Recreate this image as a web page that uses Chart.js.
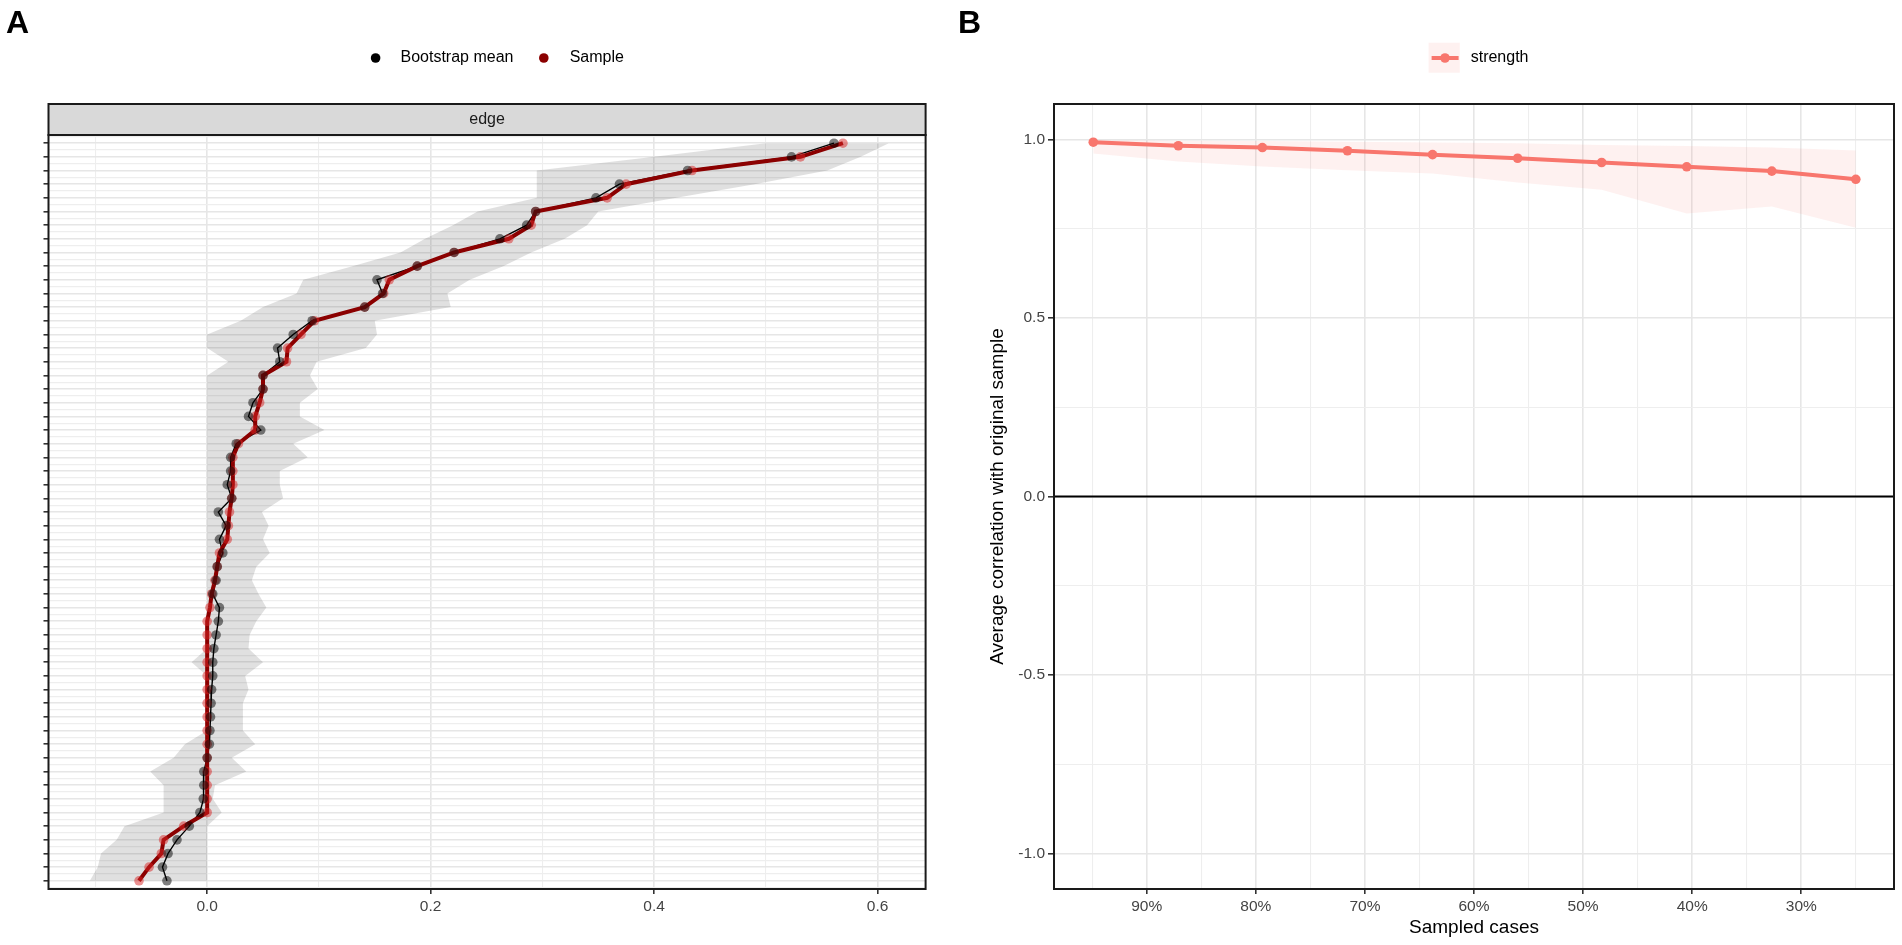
<!DOCTYPE html>
<html>
<head>
<meta charset="utf-8">
<title>Edge bootstrap and case-dropping stability</title>
<script src="https://cdn.jsdelivr.net/npm/chart.js@4.4.1/dist/chart.umd.min.js"></script>
<style>
  body { margin: 0; background: #fff; width: 1902px; height: 945px; overflow: hidden; position: relative; }
  canvas { position: absolute; top: 0; }
  #chartA { left: 0; }
  #chartB { left: 951px; }
  .tag { position: absolute; top: 4px; z-index: 2; font: bold 32px/36px 'Liberation Sans', Arial, sans-serif; color: #000; }
</style>
</head>
<body>
<div class="tag" style="left:6px">A</div>
<div class="tag" style="left:958px">B</div>
<canvas id="chartA" width="951" height="945"></canvas>
<canvas id="chartB" width="951" height="945"></canvas>
<script>
'use strict';

// ---- panel A: edge weights, sorted by sample value (row 1 = top) ----
const sampleEdge = [0.569, 0.531, 0.434, 0.375, 0.358, 0.294, 0.290, 0.270, 0.221, 0.188,
  0.163, 0.158, 0.141, 0.096, 0.084, 0.072, 0.071, 0.050, 0.050, 0.047,
  0.043, 0.043, 0.028, 0.023, 0.023, 0.023, 0.022, 0.020, 0.019, 0.018,
  0.011, 0.009, 0.007, 0.004, 0.0025, 0, 0, 0, 0, 0,
  0, 0, 0, 0, 0, 0, 0, 0, 0, 0,
  -0.021, -0.039, -0.041, -0.052, -0.061];
const bootMean = [0.561, 0.523, 0.430, 0.369, 0.348, 0.294, 0.286, 0.262, 0.221, 0.188,
  0.152, 0.157, 0.141, 0.094, 0.077, 0.063, 0.065, 0.050, 0.050, 0.041,
  0.037, 0.048, 0.026, 0.021, 0.021, 0.018, 0.022, 0.010, 0.017, 0.011,
  0.014, 0.009, 0.008, 0.005, 0.011, 0.010, 0.008, 0.006, 0.005, 0.005,
  0.004, 0.0035, 0.003, 0.0025, 0.002, 0.000, -0.003, -0.003, -0.0035, -0.0065,
  -0.016, -0.027, -0.035, -0.040, -0.036];
const ciLower = [0.50, 0.40, 0.295, 0.295, 0.295, 0.242, 0.22, 0.195, 0.173, 0.13,
  0.086, 0.08, 0.05, 0.03, 0, 0, 0.019, 0, 0, 0,
  0, 0, 0, 0, 0, 0, 0, 0, 0, 0,
  0, 0, 0, 0, 0, 0, 0, 0, -0.014, 0,
  0, 0, 0, 0, -0.02, -0.03, -0.051, -0.039, -0.039, -0.039,
  -0.074, -0.081, -0.095, -0.098, -0.105];
const ciUpper = [0.61, 0.585, 0.555, 0.49, 0.42, 0.35, 0.34, 0.32, 0.29, 0.265,
  0.235, 0.215, 0.218, 0.15, 0.152, 0.142, 0.098, 0.092, 0.099, 0.083,
  0.083, 0.105, 0.077, 0.090, 0.065, 0.065, 0.068, 0.049, 0.055, 0.050,
  0.056, 0.044, 0.040, 0.046, 0.053, 0.044, 0.038, 0.037, 0.050, 0.034,
  0.037, 0.032, 0.032, 0.032, 0.043, 0.022, 0.035, 0.007, 0.005, 0.013,
  0, 0, 0, 0, 0];
const xTicksA = [-0.1, 0, 0.1, 0.2, 0.3, 0.4, 0.5, 0.6];

// ---- panel B: case-dropping stability of strength ----
const sampledCases = [94.9, 87.1, 79.4, 71.6, 63.8, 56.0, 48.3, 40.5, 32.7, 25.0];
const strengthCor = [0.993, 0.983, 0.978, 0.969, 0.958, 0.948, 0.936, 0.924, 0.912, 0.889];
const strengthLow = [0.961, 0.939, 0.925, 0.914, 0.905, 0.880, 0.860, 0.793, 0.813, 0.753];
const strengthHigh = [0.999, 0.997, 0.996, 0.994, 0.992, 0.990, 0.985, 0.982, 0.978, 0.970];
const xTicksB = [25, 30, 35, 40, 45, 50, 55, 60, 65, 70, 75, 80, 85, 90, 95];
const yTicksB = [-1, -0.75, -0.5, -0.25, 0, 0.25, 0.5, 0.75, 1];

const FONT = "'Liberation Sans', Arial, sans-serif";
const GRID = '#E6E6E6';
const GRID_MINOR = '#EEEEEE';
const TICK_TEXT = '#444444';
const PT = 4.8;

// gridlines on every row and half row, tick marks on rows only
const rowTicksA = [];
for (let r = 0.5; r <= sampleEdge.length + 0.5; r += 0.5) rowTicksA.push(r);

function rowPoints(values) {
  return values.map((v, i) => ({ x: v, y: i + 1 }));
}
function casePoints(values) {
  return values.map((v, i) => ({ x: sampledCases[i], y: v }));
}
function evenTenth(v) {
  return Math.abs(Math.round(v * 10)) % 2 === 0;
}

// ggplot-like panel border
const panelBox = {
  id: 'panelBox',
  afterDatasetsDraw(chart) {
    const { ctx, chartArea: a } = chart;
    ctx.save();
    ctx.strokeStyle = '#1a1a1a';
    ctx.lineWidth = 2;
    ctx.strokeRect(a.left, a.top, a.right - a.left, a.bottom - a.top);
    ctx.restore();
  }
};

function makeStrip(text, height) {
  return {
    id: 'facetStrip',
    afterDraw(chart) {
      const { ctx, chartArea: a } = chart;
      const top = a.top - height;
      ctx.save();
      ctx.fillStyle = '#D9D9D9';
      ctx.fillRect(a.left, top, a.right - a.left, height);
      ctx.strokeStyle = '#1a1a1a';
      ctx.lineWidth = 2;
      ctx.strokeRect(a.left, top, a.right - a.left, height);
      ctx.fillStyle = '#1A1A1A';
      ctx.font = '16px ' + FONT;
      ctx.textAlign = 'center';
      ctx.textBaseline = 'middle';
      ctx.fillText(text, (a.left + a.right) / 2, top + height / 2);
      ctx.restore();
    }
  };
}

function makeLegend(items) {
  return {
    id: 'keyLegend',
    afterDraw(chart) {
      const ctx = chart.ctx;
      ctx.save();
      ctx.font = '16px ' + FONT;
      ctx.textAlign = 'left';
      ctx.textBaseline = 'middle';
      items.forEach(it => {
        if (it.box) {
          ctx.fillStyle = it.boxColor;
          ctx.fillRect(it.box[0], it.box[1], it.box[2], it.box[3]);
        }
        if (it.line) {
          ctx.strokeStyle = it.color;
          ctx.lineWidth = 4;
          ctx.beginPath();
          ctx.moveTo(it.line[0], it.y);
          ctx.lineTo(it.line[1], it.y);
          ctx.stroke();
        }
        ctx.fillStyle = it.color;
        ctx.beginPath();
        ctx.arc(it.x, it.y, PT, 0, Math.PI * 2);
        ctx.fill();
        ctx.fillStyle = '#000';
        ctx.fillText(it.text, it.textX, it.y);
      });
      ctx.restore();
    }
  };
}

const zeroLine = {
  id: 'zeroLine',
  beforeDatasetsDraw(chart) {
    const { ctx, chartArea: a, scales } = chart;
    const py = scales.y.getPixelForValue(0);
    ctx.save();
    ctx.strokeStyle = '#000';
    ctx.lineWidth = 1.8;
    ctx.beginPath();
    ctx.moveTo(a.left, py);
    ctx.lineTo(a.right, py);
    ctx.stroke();
    ctx.restore();
  }
};

// ---------------- chart A ----------------
new Chart(document.getElementById('chartA'), {
  type: 'line',
  data: {
    datasets: [
      { label: 'CI lower', data: rowPoints(ciLower), indexAxis: 'y', borderColor: 'transparent', borderWidth: 0,
        pointRadius: 0, fill: '+1', backgroundColor: 'rgba(0,0,0,0.12)', order: 5 },
      { label: 'CI upper', data: rowPoints(ciUpper), indexAxis: 'y', borderColor: 'transparent', borderWidth: 0,
        pointRadius: 0, fill: false, order: 5 },
      { label: 'Bootstrap mean', data: rowPoints(bootMean), indexAxis: 'y', borderColor: '#000', borderWidth: 1.4,
        pointRadius: 0, fill: false, order: 4 },
      { label: 'Sample', data: rowPoints(sampleEdge), indexAxis: 'y', borderColor: '#8B0000', borderWidth: 4,
        pointRadius: PT, pointBackgroundColor: 'rgba(215,35,35,0.5)', pointBorderColor: 'transparent',
        pointBorderWidth: 0, fill: false, order: 3 },
      { label: 'Bootstrap mean points', data: rowPoints(bootMean), indexAxis: 'y', showLine: false,
        pointRadius: PT, pointBackgroundColor: 'rgba(0,0,0,0.5)', pointBorderColor: 'transparent',
        pointBorderWidth: 0, fill: false, order: 2 }
    ]
  },
  options: {
    responsive: false,
    animation: false,
    events: [],
    indexAxis: 'y',
    layout: { padding: { left: 0, top: 135, right: 25.4, bottom: 0 } },
    plugins: { legend: { display: false }, tooltip: { enabled: false } },
    scales: {
      x: {
        type: 'linear',
        min: -0.142,
        max: 0.643,
        afterBuildTicks: s => { s.ticks = xTicksA.map(v => ({ value: v })); },
        afterFit: s => { s.height = 56; s.paddingLeft = 0; s.paddingRight = 0; },
        ticks: {
          autoSkip: false, maxRotation: 0, padding: 3, color: TICK_TEXT,
          font: { family: FONT, size: 15.5 },
          callback: v => evenTenth(v) ? v.toFixed(1) : ''
        },
        grid: {
          color: c => evenTenth(c.tick.value) ? GRID : GRID_MINOR,
          lineWidth: c => evenTenth(c.tick.value) ? 1.6 : 1.1,
          tickColor: c => evenTenth(c.tick.value) ? '#333' : 'rgba(0,0,0,0)',
          tickLength: 5,
          tickWidth: 1.6
        },
        border: { display: false }
      },
      y: {
        type: 'linear',
        reverse: true,
        min: 0.4,
        max: 55.6,
        afterBuildTicks: s => { s.ticks = rowTicksA.map(v => ({ value: v })); },
        afterFit: s => { s.width = 48.5; s.paddingTop = 0; s.paddingBottom = 0; },
        ticks: { autoSkip: false, padding: 0, callback: () => '' },
        grid: {
          color: c => Number.isInteger(c.tick.value) ? GRID : GRID_MINOR,
          lineWidth: c => Number.isInteger(c.tick.value) ? 1.6 : 1.2,
          tickColor: c => Number.isInteger(c.tick.value) ? '#333' : 'rgba(0,0,0,0)',
          tickLength: 5,
          tickWidth: 1.6
        },
        border: { display: false }
      }
    }
  },
  plugins: [panelBox, makeStrip('edge', 31), makeLegend([
    { x: 375.6, y: 58, color: '#000', text: 'Bootstrap mean', textX: 400.5 },
    { x: 543.8, y: 58, color: '#8B0000', text: 'Sample', textX: 569.7 }
  ])]
});

// ---------------- chart B ----------------
new Chart(document.getElementById('chartB'), {
  type: 'line',
  data: {
    datasets: [
      { label: 'strength lower', data: casePoints(strengthLow), borderColor: 'transparent', borderWidth: 0,
        pointRadius: 0, fill: '+1', backgroundColor: 'rgba(248,118,109,0.1)', order: 3 },
      { label: 'strength upper', data: casePoints(strengthHigh), borderColor: 'transparent', borderWidth: 0,
        pointRadius: 0, fill: false, order: 3 },
      { label: 'strength', data: casePoints(strengthCor), borderColor: '#F8766D', borderWidth: 4,
        pointRadius: PT, pointBackgroundColor: '#F8766D', pointBorderColor: 'transparent',
        pointBorderWidth: 0, fill: false, order: 1 }
    ]
  },
  options: {
    responsive: false,
    animation: false,
    events: [],
    layout: { padding: { left: 35, top: 104, right: 8, bottom: 0 } },
    plugins: { legend: { display: false }, tooltip: { enabled: false } },
    scales: {
      x: {
        type: 'linear',
        reverse: true,
        min: 21.5,
        max: 98.5,
        afterBuildTicks: s => { s.ticks = xTicksB.map(v => ({ value: v })); },
        afterFit: s => { s.height = 56; s.paddingLeft = 0; s.paddingRight = 0; },
        ticks: {
          autoSkip: false, maxRotation: 0, padding: 3, color: TICK_TEXT,
          font: { family: FONT, size: 15.5 },
          callback: v => Math.round(v) % 10 === 0 ? v + '%' : ''
        },
        grid: {
          color: c => Math.round(c.tick.value) % 10 === 0 ? GRID : GRID_MINOR,
          lineWidth: c => Math.round(c.tick.value) % 10 === 0 ? 1.6 : 1.1,
          tickColor: c => Math.round(c.tick.value) % 10 === 0 ? '#333' : 'rgba(0,0,0,0)',
          tickLength: 5,
          tickWidth: 1.6
        },
        border: { display: false },
        title: {
          display: true, text: 'Sampled cases', color: '#000',
          font: { family: FONT, size: 19 }, padding: { top: 0, bottom: 6 }
        }
      },
      y: {
        type: 'linear',
        min: -1.1,
        max: 1.1,
        afterBuildTicks: s => { s.ticks = yTicksB.map(v => ({ value: v })); },
        afterFit: s => { s.width = 68; s.paddingTop = 0; s.paddingBottom = 0; },
        ticks: {
          autoSkip: false, padding: 3, color: TICK_TEXT,
          font: { family: FONT, size: 15.5 },
          callback: v => Math.abs(Math.round(v * 4)) % 2 === 0 ? v.toFixed(1) : ''
        },
        grid: {
          color: c => Math.abs(Math.round(c.tick.value * 4)) % 2 === 0 ? GRID : GRID_MINOR,
          lineWidth: c => Math.abs(Math.round(c.tick.value * 4)) % 2 === 0 ? 1.6 : 1.1,
          tickColor: c => Math.abs(Math.round(c.tick.value * 4)) % 2 === 0 ? '#333' : 'rgba(0,0,0,0)',
          tickLength: 6,
          tickWidth: 1.6
        },
        border: { display: false },
        title: {
          display: true, text: 'Average correlation with original sample', color: '#000',
          font: { family: FONT, size: 19 }, padding: { top: 0, bottom: 0 }
        }
      }
    }
  },
  plugins: [zeroLine, panelBox, makeLegend([
    { x: 494, y: 58, color: '#F8766D', text: 'strength', textX: 519.7,
      box: [477.6, 42.7, 31.2, 30], boxColor: 'rgba(248,118,109,0.1)', line: [480.6, 507.6] }
  ])]
});
</script>
</body>
</html>
